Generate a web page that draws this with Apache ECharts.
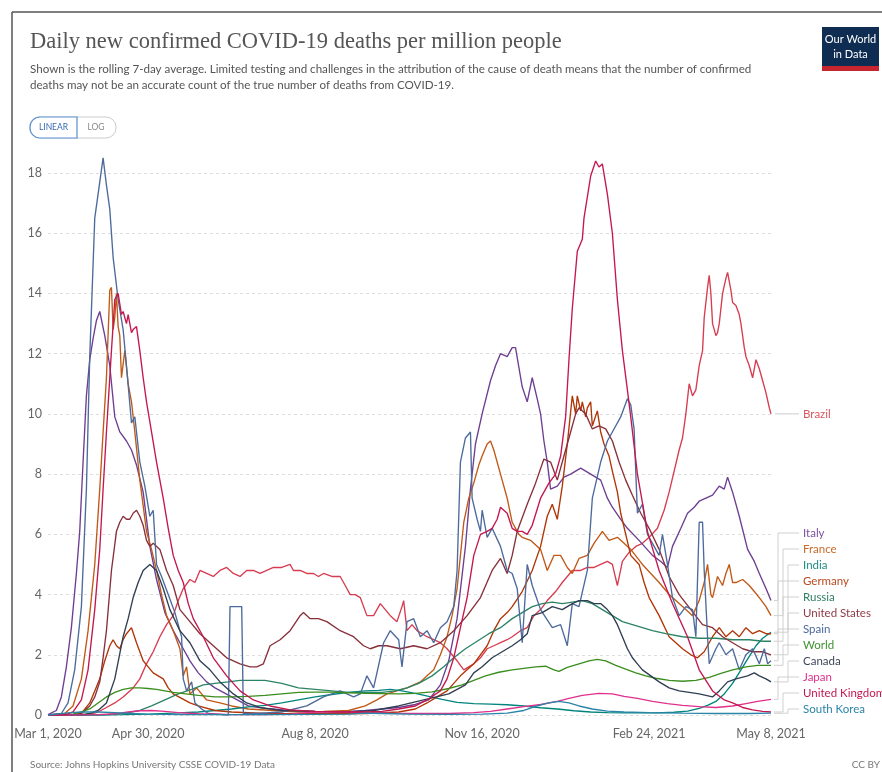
<!DOCTYPE html>
<html>
<head>
<meta charset="utf-8">
<script src="https://cdn.jsdelivr.net/npm/echarts@6/dist/echarts.min.js"></script>
<style>
html,body{margin:0;padding:0;background:#fff;}
#c{width:882px;height:772px;}
</style>
</head>
<body>
<div id="c"></div>
<script>
// x values are days since Mar 1, 2020
const tickDays = [0, 60, 160, 260, 360, 433];
const tickLabels = ['Mar 1, 2020', 'Apr 30, 2020', 'Aug 8, 2020', 'Nov 16, 2020', 'Feb 24, 2021', 'May 8, 2021'];
const yTicks = [0, 2, 4, 6, 8, 10, 12, 14, 16, 18];

const brazil = [[0,0],[20,0],[25,0.02],[30,0.1],[35,0.25],[40,0.4],[45,0.6],[51,0.9],[55,1.2],[59,1.7],[63,2.1],[67,2.6],[71,3.0],[75,3.3],[78,3.8],[81,4.2],[85,4.5],[88,4.4],[91,4.8],[95,4.7],[99,4.6],[103,4.8],[107,4.9],[111,4.7],[115,4.6],[119,4.8],[123,4.8],[127,4.7],[131,4.8],[135,4.9],[140,4.9],[145,5.0],[147,4.8],[151,4.8],[155,4.7],[159,4.7],[162,4.6],[165,4.7],[170,4.6],[175,4.6],[178,4.3],[181,4.0],[184,4.0],[187,3.9],[191,3.3],[195,3.3],[199,3.7],[202,3.5],[205,3.3],[209,3.1],[212,3.6],[213,3.8],[215,2.8],[218,3.0],[221,2.8],[227,2.6],[231,2.5],[235,2.4],[239,2.2],[242,2.0],[245,1.8],[249,1.5],[252,1.6],[255,1.7],[259,1.9],[263,2.2],[267,2.3],[271,2.4],[275,2.5],[278,2.6],[283,2.8],[287,2.9],[291,3.3],[295,3.5],[299,3.8],[304,4.1],[308,4.4],[314,4.8],[319,4.8],[323,4.9],[327,4.9],[331,5.0],[335,5.1],[338,5.0],[341,4.3],[344,5.1],[348,5.4],[352,5.6],[356,5.7],[360,5.9],[365,6.2],[369,6.8],[372,7.4],[375,8.1],[378,8.8],[380,9.2],[382,10.0],[384,11.0],[386,10.6],[388,10.8],[390,11.6],[392,12.1],[393,13.2],[395,14.2],[396,14.6],[397,14.0],[398,13.0],[400,12.6],[401,12.7],[402,13.0],[404,14.0],[406,14.5],[407,14.7],[409,14.1],[410,13.7],[412,13.6],[414,13.3],[415,13.0],[417,12.2],[418,11.9],[420,11.6],[422,11.2],[424,11.8],[426,11.5],[428,11.1],[430,10.7],[432,10.2],[433,10.0]];

const italy = [[0,0.01],[5,0.15],[8,0.6],[11,1.6],[14,2.9],[17,4.7],[19,6.1],[21,8.4],[23,10.6],[25,11.8],[27,12.5],[29,13.1],[31,13.4],[32,13.4],[34,12.6],[37,11.6],[40,9.9],[43,9.4],[47,9.1],[50,8.8],[53,8.3],[57,7.4],[61,5.6],[65,4.5],[70,3.4],[75,2.8],[80,2.3],[85,1.8],[90,1.4],[95,1.1],[100,0.9],[110,0.6],[120,0.3],[130,0.22],[145,0.15],[160,0.12],[175,0.1],[190,0.15],[200,0.2],[210,0.25],[220,0.35],[228,0.5],[235,1.0],[240,1.8],[245,3.2],[250,5.6],[253,7.5],[256,9.0],[260,10.0],[265,11.1],[268,11.6],[271,12.0],[275,11.9],[278,12.2],[280,12.2],[284,10.9],[287,10.4],[290,11.2],[293,10.5],[295,10.0],[297,9.1],[299,8.4],[301,7.5],[305,7.6],[309,7.9],[313,8.0],[319,8.2],[325,8.0],[331,7.8],[335,7.2],[338,6.9],[343,6.5],[347,6.2],[354,5.8],[362,5.3],[367,5.1],[371,4.9],[374,5.6],[379,6.2],[383,6.7],[387,6.9],[390,7.1],[394,7.2],[398,7.3],[402,7.6],[405,7.5],[407,7.9],[410,7.4],[414,6.6],[419,5.5],[423,5.1],[426,4.7],[430,4.2],[433,3.8]];

const france = [[0,0],[10,0.05],[15,0.3],[20,1.2],[24,2.8],[28,5.0],[31,7.5],[33,9.4],[35,11.2],[37,14.1],[38,14.2],[39,12.8],[40,13.2],[41,14.0],[42,12.9],[43,12.6],[44,11.2],[46,12.1],[48,11.0],[50,10.4],[52,9.4],[55,7.8],[59,6.1],[62,5.5],[65,4.8],[68,4.0],[71,3.3],[75,2.8],[79,2.2],[81,1.3],[83,1.6],[85,0.7],[89,0.9],[95,0.5],[103,0.4],[110,0.3],[120,0.2],[135,0.15],[150,0.1],[165,0.12],[180,0.15],[190,0.3],[197,0.5],[203,0.7],[209,0.8],[215,0.9],[223,1.1],[227,1.3],[231,1.5],[235,2.0],[239,2.6],[242,3.3],[245,4.2],[249,6.4],[252,7.2],[255,7.7],[258,8.3],[260,8.6],[263,9.0],[265,9.1],[267,8.8],[271,8.0],[275,7.2],[278,6.4],[282,6.0],[284,5.9],[289,5.8],[295,5.5],[299,4.8],[303,5.3],[307,5.3],[311,4.9],[314,4.7],[318,5.2],[323,5.3],[327,5.7],[332,6.1],[336,5.8],[341,5.9],[345,5.7],[349,5.5],[356,5.0],[361,4.7],[366,4.4],[372,4.0],[378,3.7],[382,3.5],[386,3.3],[390,3.8],[393,4.4],[395,5.0],[397,4.0],[398,3.9],[401,4.6],[404,4.3],[406,4.7],[408,5.0],[410,4.4],[412,4.4],[416,4.5],[420,4.3],[423,4.1],[426,3.9],[430,3.6],[433,3.3]];

const india = [[0,0],[30,0],[45,0.01],[60,0.03],[75,0.06],[90,0.1],[100,0.15],[110,0.2],[120,0.27],[130,0.32],[140,0.4],[150,0.5],[160,0.6],[170,0.68],[180,0.75],[190,0.8],[198,0.82],[205,0.85],[212,0.8],[220,0.72],[228,0.62],[236,0.52],[245,0.42],[255,0.38],[265,0.36],[275,0.34],[285,0.3],[295,0.24],[305,0.2],[315,0.14],[325,0.1],[335,0.08],[345,0.07],[355,0.07],[365,0.07],[375,0.09],[383,0.13],[390,0.22],[395,0.32],[400,0.45],[405,0.7],[410,1.05],[415,1.5],[420,1.95],[424,2.3],[428,2.55],[433,2.75]];

const germany = [[0,0],[15,0.01],[20,0.05],[25,0.4],[28,0.8],[31,1.2],[34,1.8],[37,2.3],[39,2.5],[41,2.3],[43,2.2],[45,2.5],[47,2.7],[50,2.9],[53,2.4],[57,1.8],[60,1.6],[63,1.4],[69,1.2],[72,0.9],[75,0.7],[80,0.55],[85,0.4],[90,0.3],[100,0.15],[110,0.1],[130,0.05],[160,0.04],[190,0.05],[210,0.1],[220,0.2],[227,0.4],[233,0.6],[239,0.8],[247,1.3],[255,1.7],[263,2.3],[267,2.8],[271,3.2],[275,3.4],[278,3.6],[284,4.1],[290,4.8],[295,5.6],[299,6.6],[302,7.0],[305,6.5],[308,7.6],[311,9.0],[314,10.6],[316,10.0],[317,10.6],[319,10.1],[320,10.4],[322,9.9],[323,10.2],[325,10.4],[326,9.6],[329,10.1],[331,9.4],[333,9.0],[336,8.6],[338,8.1],[341,7.4],[343,6.7],[346,6.0],[349,5.3],[354,5.0],[357,4.4],[360,3.9],[366,3.3],[372,2.6],[380,2.2],[385,2.0],[389,1.9],[393,2.1],[398,2.6],[402,2.9],[406,2.6],[410,2.8],[414,2.6],[418,2.9],[422,2.7],[426,2.8],[430,2.7],[433,2.7]];

const russia = [[0,0],[20,0],[35,0.01],[45,0.05],[55,0.15],[62,0.3],[70,0.5],[78,0.7],[86,0.85],[93,1.0],[100,1.05],[108,1.1],[115,1.15],[122,1.15],[130,1.15],[140,1.05],[150,0.9],[160,0.85],[170,0.8],[180,0.75],[190,0.75],[200,0.75],[208,0.8],[215,0.9],[222,1.05],[230,1.3],[237,1.6],[243,1.9],[250,2.2],[257,2.45],[264,2.7],[271,2.9],[278,3.2],[284,3.4],[290,3.6],[296,3.7],[302,3.75],[308,3.7],[314,3.75],[320,3.8],[326,3.7],[332,3.5],[338,3.3],[344,3.1],[350,3.0],[356,2.9],[362,2.8],[370,2.7],[380,2.6],[390,2.55],[400,2.55],[410,2.5],[420,2.5],[428,2.45],[433,2.45]];

const unitedStates = [[0,0],[15,0.01],[20,0.05],[25,0.3],[28,0.6],[31,1.1],[33,1.9],[35,2.8],[38,4.8],[41,6.1],[43,6.4],[45,6.6],[47,6.5],[49,6.5],[51,6.7],[53,6.8],[55,6.6],[57,6.3],[59,5.8],[61,5.6],[63,5.7],[67,5.5],[71,4.8],[75,4.3],[79,3.5],[85,3.1],[91,2.7],[99,2.3],[107,1.9],[115,1.7],[121,1.6],[125,1.6],[129,1.7],[133,2.3],[139,2.5],[145,2.8],[151,3.3],[153,3.4],[157,3.2],[162,3.2],[167,3.1],[175,2.8],[183,2.6],[189,2.3],[193,2.2],[198,2.3],[203,2.3],[211,2.2],[219,2.3],[227,2.2],[235,2.4],[243,2.8],[251,3.3],[259,3.9],[266,4.8],[271,5.2],[275,4.7],[278,5.3],[281,6.1],[287,7.0],[292,7.7],[297,8.5],[301,8.4],[305,7.8],[309,8.6],[313,9.4],[316,10.0],[318,10.2],[322,10.0],[326,9.5],[330,9.6],[334,9.5],[338,9.1],[342,8.4],[346,7.8],[350,7.3],[355,6.7],[360,6.2],[366,5.5],[372,4.6],[378,4.0],[385,3.5],[392,3.0],[398,2.9],[404,2.6],[410,2.4],[416,2.2],[422,2.1],[428,2.1],[433,2.0]];

const spain = [[0,0],[8,0.05],[12,0.4],[16,1.5],[20,3.6],[23,7.5],[25,11.9],[28,16.5],[30,17.3],[33,18.5],[35,17.6],[37,16.8],[39,15.2],[42,13.8],[45,12.8],[47,11.6],[50,9.7],[52,9.9],[55,8.4],[58,7.6],[61,6.6],[63,6.8],[65,5.0],[68,4.6],[72,4.0],[76,3.4],[80,2.6],[81,1.2],[83,0.8],[86,1.1],[88,0.4],[92,0.2],[96,0.05],[108,0],[109,3.6],[116,3.6],[117,0.05],[125,0.05],[140,0.1],[155,0.3],[165,0.6],[175,0.8],[183,0.6],[187,0.7],[191,1.3],[195,0.9],[201,2.4],[205,2.8],[210,2.5],[212,1.6],[215,3.1],[219,3.2],[223,2.6],[227,2.8],[231,2.4],[235,2.9],[239,3.1],[243,3.6],[245,4.8],[247,8.4],[250,9.2],[253,9.4],[254,7.2],[257,6.5],[259,6.1],[260,6.8],[263,5.9],[266,6.2],[271,5.6],[275,4.8],[278,4.7],[281,4.2],[284,2.4],[287,5.0],[290,4.3],[295,3.5],[302,2.9],[307,3.0],[311,2.3],[314,3.7],[318,3.6],[323,4.8],[326,7.2],[331,8.4],[335,9.1],[338,9.4],[343,9.9],[347,10.5],[349,10.3],[351,9.5],[353,6.7],[356,7.0],[359,6.0],[363,5.6],[366,5.3],[368,6.0],[371,5.0],[374,3.9],[378,3.3],[382,3.6],[386,3.5],[388,2.6],[390,6.4],[392,6.4],[393,4.8],[395,2.6],[396,1.7],[400,2.2],[402,2.4],[406,2.0],[410,2.2],[414,1.5],[418,2.0],[422,2.2],[426,1.7],[429,2.2],[431,1.7],[433,1.8]];

const world = [[0,0],[10,0.01],[15,0.03],[20,0.1],[25,0.2],[30,0.4],[35,0.6],[40,0.75],[45,0.85],[50,0.9],[55,0.9],[60,0.88],[65,0.85],[70,0.8],[75,0.75],[80,0.72],[90,0.65],[100,0.6],[110,0.6],[120,0.62],[130,0.65],[140,0.7],[150,0.75],[160,0.76],[170,0.76],[180,0.74],[190,0.72],[200,0.71],[210,0.7],[220,0.72],[230,0.77],[240,0.88],[248,1.0],[255,1.15],[262,1.3],[270,1.42],[278,1.5],[285,1.55],[292,1.6],[298,1.62],[303,1.5],[306,1.45],[311,1.58],[318,1.7],[324,1.8],[329,1.85],[334,1.8],[340,1.65],[346,1.52],[352,1.4],[358,1.3],[364,1.22],[372,1.15],[380,1.12],[388,1.15],[396,1.25],[403,1.38],[410,1.5],[418,1.6],[425,1.65],[433,1.65]];

const canada = [[0,0],[20,0.01],[25,0.05],[30,0.15],[35,0.4],[40,1.2],[45,2.6],[48,3.2],[51,3.9],[54,4.4],[57,4.8],[61,5.0],[65,4.8],[69,4.2],[73,3.5],[79,2.8],[85,2.4],[91,1.8],[97,1.5],[103,1.1],[111,0.7],[119,0.4],[127,0.25],[140,0.15],[160,0.12],[180,0.1],[195,0.15],[210,0.3],[225,0.5],[240,0.7],[250,1.0],[255,1.4],[260,1.6],[266,1.9],[272,2.1],[278,2.3],[283,2.5],[287,2.7],[290,3.3],[296,3.4],[302,3.6],[308,3.5],[314,3.7],[318,3.8],[323,3.8],[327,3.7],[331,3.7],[335,3.5],[338,3.3],[341,3.0],[344,2.6],[347,2.2],[350,1.9],[353,1.7],[356,1.5],[361,1.3],[366,1.1],[372,0.9],[378,0.8],[384,0.75],[390,0.7],[394,0.65],[398,0.6],[402,0.8],[407,1.1],[412,1.2],[419,1.3],[423,1.4],[426,1.3],[430,1.2],[433,1.1]];

const japan = [[0,0],[20,0.005],[30,0.01],[40,0.04],[48,0.1],[55,0.14],[62,0.15],[70,0.12],[78,0.08],[90,0.04],[110,0.01],[130,0.01],[145,0.03],[155,0.08],[165,0.1],[175,0.1],[190,0.08],[205,0.06],[220,0.05],[240,0.05],[255,0.08],[265,0.12],[275,0.2],[285,0.28],[295,0.35],[305,0.45],[312,0.55],[320,0.65],[330,0.72],[338,0.7],[345,0.62],[353,0.55],[362,0.45],[371,0.38],[380,0.32],[390,0.28],[400,0.25],[410,0.3],[418,0.38],[425,0.45],[433,0.52]];

const unitedKingdom = [[0,0],[10,0.01],[15,0.1],[20,0.5],[24,1.5],[28,3.5],[31,5.5],[33,7.5],[35,9.4],[38,12.1],[40,13.8],[42,14.0],[44,13.3],[45,13.4],[47,13.0],[48,13.3],[50,12.7],[51,12.8],[53,12.9],[55,12.1],[57,11.2],[59,10.4],[62,9.4],[65,8.4],[69,7.2],[72,6.2],[75,5.3],[78,4.8],[81,4.4],[84,3.7],[87,3.2],[93,2.6],[99,1.9],[107,1.3],[115,0.8],[123,0.5],[133,0.3],[145,0.17],[160,0.12],[175,0.1],[190,0.1],[200,0.12],[210,0.2],[220,0.3],[227,0.5],[235,0.8],[239,1.2],[243,1.9],[247,2.9],[251,3.9],[255,5.3],[259,6.0],[263,6.1],[266,6.2],[269,6.5],[271,6.9],[275,6.7],[278,6.2],[281,6.1],[284,6.1],[287,6.0],[290,6.3],[295,7.2],[300,7.7],[304,8.0],[307,8.6],[310,9.9],[312,11.8],[314,13.5],[317,15.4],[320,15.8],[321,16.5],[323,17.2],[325,17.9],[328,18.4],[330,18.2],[332,18.3],[335,17.3],[338,16.0],[341,13.8],[344,12.1],[347,10.8],[349,9.9],[353,8.0],[359,6.1],[366,4.8],[374,3.7],[383,2.6],[390,1.5],[398,0.8],[405,0.5],[410,0.4],[416,0.25],[422,0.17],[428,0.12],[433,0.1]];

const southKorea = [[0,0],[5,0.03],[12,0.07],[20,0.1],[30,0.1],[40,0.08],[50,0.05],[60,0.03],[80,0.01],[100,0.01],[130,0.01],[160,0.02],[180,0.03],[190,0.06],[200,0.05],[215,0.03],[240,0.02],[260,0.03],[275,0.06],[285,0.15],[293,0.3],[300,0.4],[306,0.45],[312,0.4],[318,0.3],[326,0.2],[335,0.13],[345,0.1],[360,0.08],[380,0.06],[400,0.05],[420,0.05],[433,0.06]];

const seriesList = [
  ['Brazil', brazil, '#D73C50', '#D9585F'],
  ['Italy', italy, '#6D3E91', '#7B52A0'],
  ['France', france, '#C05917', '#C96A2A'],
  ['India', india, '#00847E', '#1F8C86'],
  ['Germany', germany, '#B13507', '#B9491E'],
  ['Russia', russia, '#2C8465', '#2F7D63'],
  ['United States', unitedStates, '#883039', '#8F3A46'],
  ['Spain', spain, '#4C6A9C', '#4C6A9C'],
  ['World', world, '#3B8E1D', '#3E9130'],
  ['Canada', canada, '#2F3E52', '#3A4657'],
  ['Japan', japan, '#E0308C', '#E0308C'],
  ['United Kingdom', unitedKingdom, '#C4174F', '#C4174F'],
  ['South Korea', southKorea, '#2A84A8', '#2A84A8']
];

const FONT = 'Lato, "Noto Sans", sans-serif';

const chart = echarts.init(document.getElementById('c'), null, {renderer: 'canvas'});
chart.setOption({
  animation: false,
  backgroundColor: '#fff',
  grid: {left: 48, right: 111, top: 173, bottom: 57, containLabel: false},
  xAxis: {
    type: 'value', min: 0, max: 433,
    axisLine: {show: false}, axisTick: {show: false},
    splitLine: {show: false},
    axisLabel: {
      customValues: tickDays,
      formatter: v => tickLabels[tickDays.indexOf(v)] || '',
      color: '#666', fontSize: 12.5, fontFamily: FONT, margin: 12
    }
  },
  yAxis: {
    type: 'value', min: 0, max: 18, interval: 2,
    axisLine: {show: false}, axisTick: {show: false},
    axisLabel: {color: '#666', fontSize: 12.5, fontFamily: FONT, margin: 6},
    splitLine: {lineStyle: {color: '#ddd', type: [3, 3], width: 1}}
  },
  series: seriesList.map(([name, data, color]) => ({
    name, type: 'line', data, symbol: 'none', showSymbol: false, clip: false,
    lineStyle: {width: 1.35, color}, itemStyle: {color},
    emphasis: {disabled: true}
  }))
});

// Line-end labels: each placed at its series' last point, then stacked so they don't overlap.
const ends = seriesList.map(([name, data, color, labelColor]) => {
  const last = data[data.length - 1];
  const p = chart.convertToPixel({gridIndex: 0}, last);
  return {name, labelColor, x: p[0], y: p[1], ly: p[1]};
});
const main = ends[0];
const stacked = ends.slice(1).sort((a, b) => a.y - b.y);
const SPACING = 16;
const bottomLimit = chart.convertToPixel({gridIndex: 0}, [0, 0])[1] - 6;
for (let i = stacked.length - 1; i >= 0; i--) {
  const limit = (i === stacked.length - 1) ? bottomLimit : stacked[i + 1].ly - SPACING;
  stacked[i].ly = Math.min(stacked[i].y, limit);
}
const labelGraphics = [];
const LX = 803;
labelGraphics.push({type: 'polyline', shape: {points: [[main.x + 4, main.y], [LX - 4, main.ly]]}, style: {stroke: '#ccc', lineWidth: 1}, silent: true});
labelGraphics.push({type: 'text', x: LX, y: main.ly, style: {text: main.name, fill: main.labelColor, font: '11.5px ' + FONT, verticalAlign: 'middle'}});
stacked.forEach((e, i) => {
  const bx = 778 + (i % 3) * 5;
  labelGraphics.push({type: 'polyline', shape: {points: [[e.x + 3, e.y], [bx, e.y], [bx, e.ly], [LX - 4, e.ly]]}, style: {stroke: '#d0d0d0', lineWidth: 1}, silent: true});
  labelGraphics.push({type: 'text', x: LX, y: e.ly, style: {text: e.name, fill: e.labelColor, font: '11.5px ' + FONT, verticalAlign: 'middle'}});
});

const baseGraphics = [
  {type: 'line', shape: {x1: 12, y1: 12, x2: 882, y2: 12}, style: {stroke: '#555', lineWidth: 1.5}},
  {type: 'line', shape: {x1: 12, y1: 12, x2: 12, y2: 772}, style: {stroke: '#555', lineWidth: 1.5}},
  {type: 'text', left: 30, top: 31, style: {text: 'Daily new confirmed COVID-19 deaths per million people', font: '22.5px "Liberation Serif", "DejaVu Serif", serif', fill: '#555'}},
  {type: 'text', left: 30, top: 63, style: {text: 'Shown is the rolling 7-day average. Limited testing and challenges in the attribution of the cause of death means that the number of confirmed', font: '11.6px Lato, sans-serif', fill: '#555'}},
  {type: 'text', left: 30, top: 79, style: {text: 'deaths may not be an accurate count of the true number of deaths from COVID-19.', font: '11.6px Lato, sans-serif', fill: '#555'}},
  {type: 'rect', shape: {x: 30, y: 117, width: 86, height: 21, r: 10}, style: {fill: '#fff', stroke: '#ccc', lineWidth: 1}},
  {type: 'rect', shape: {x: 30, y: 117, width: 47, height: 21, r: [10, 0, 0, 10]}, style: {fill: '#fff', stroke: '#5b8fd0', lineWidth: 1.2}},
  {type: 'text', x: 53.5, y: 127.5, style: {text: 'LINEAR', font: '8.5px Lato, sans-serif', fill: '#3a6cb3', align: 'center', verticalAlign: 'middle'}},
  {type: 'text', x: 96, y: 127.5, style: {text: 'LOG', font: '8.5px Lato, sans-serif', fill: '#888', align: 'center', verticalAlign: 'middle'}},
  {type: 'rect', shape: {x: 822, y: 27, width: 57, height: 44}, style: {fill: '#0f2d52'}},
  {type: 'rect', shape: {x: 822, y: 66, width: 57, height: 5}, style: {fill: '#c8262e'}},
  {type: 'text', x: 850.5, y: 39, style: {text: 'Our World', font: '11px "Liberation Sans Narrow", Lato, sans-serif', fill: '#fff', align: 'center', verticalAlign: 'middle'}},
  {type: 'text', x: 850.5, y: 54, style: {text: 'in Data', font: '11px "Liberation Sans Narrow", Lato, sans-serif', fill: '#fff', align: 'center', verticalAlign: 'middle'}},
  {type: 'text', left: 30, top: 760, style: {text: 'Source: Johns Hopkins University CSSE COVID-19 Data', font: '10px Lato, sans-serif', fill: '#777'}},
  {type: 'text', right: 2, top: 760, style: {text: 'CC BY', font: '10px Lato, sans-serif', fill: '#777'}}
];
chart.setOption({graphic: baseGraphics.concat(labelGraphics)});
</script>
</body>
</html>
